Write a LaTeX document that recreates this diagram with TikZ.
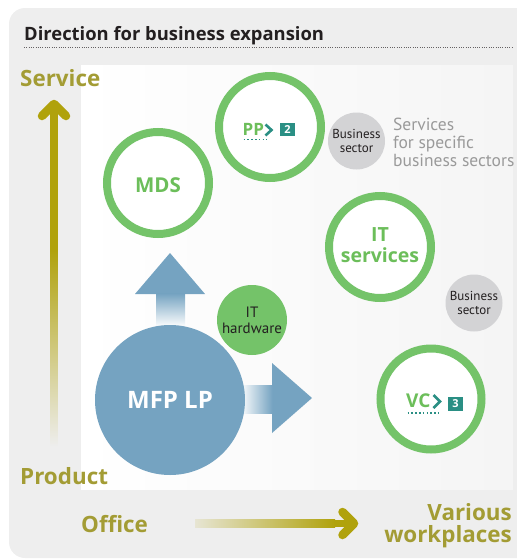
\documentclass[tikz,border=0pt]{standalone}
\usepackage{fontspec}
\setmainfont{Open Sans}
\newfontfamily\ptsans{PT Sans}
\usetikzlibrary{calc}
\definecolor{bgout}{HTML}{EEEEEE}
\definecolor{olivetxt}{HTML}{A39C34}
\definecolor{olivearr}{HTML}{B0A20C}
\definecolor{ringgrn}{HTML}{74C369}
\definecolor{txtgrn}{HTML}{6CBE5A}
\definecolor{mfpblue}{HTML}{75A3C1}
\definecolor{tealc}{HTML}{2A8F84}
\definecolor{bsgray}{HTML}{D3D3D5}
\definecolor{svcgray}{HTML}{9A9A9A}
\definecolor{darktxt}{HTML}{231F20}
\tikzset{
  ring/.style={circle, draw=ringgrn, line width=8pt, fill=white, minimum size=#1, inner sep=0pt},
  axislbl/.style={font=\bfseries\fontsize{22.4}{23}\selectfont, text=olivetxt, inner sep=0pt},
  bizsec/.style={circle, fill=bsgray, minimum size=57pt, inner sep=0pt, align=center,
     text=darktxt, font=\ptsans\fontsize{13}{14.5}\selectfont},
  numbox/.style={fill=tealc, text=white, minimum width=15pt, minimum height=13.5pt, inner sep=0pt,
     font=\bfseries\fontsize{11}{11}\selectfont},
  chev/.style={draw=tealc, line width=2.6pt, line join=miter},
  dotul/.style={draw=tealc, line width=1.6pt, dash pattern=on 1.6pt off 2.2pt},
  ringtxt/.style={font=\bfseries\fontsize{20.5}{20}\selectfont, text=txtgrn, inner sep=0pt, align=center},
  codelbl/.style={anchor=base west, inner sep=0pt, text=txtgrn},
}
\begin{document}
\begin{tikzpicture}[x=1pt,y=-1pt]
\useasboundingbox (0,0) rectangle (517,560);
\begin{scope}
\clip (0,0) rectangle (517,560);
\fill[bgout, rounded corners=16pt] (9,8) rectangle (540,558);
\end{scope}
% inner panel
\shade[left color=white, right color=black!4] (81,65) rectangle (513,489);
% title
\node[anchor=base west, inner sep=0pt, font=\bfseries\fontsize{18.4}{19}\selectfont, text=darktxt] (title) at (24,40.5) {Direction for business expansion};
\coordinate (dl) at (24,47.5);
\coordinate (dr) at (512,47.5);
\draw[darktxt!70, line width=0.9pt, dash pattern=on 0.9pt off 1.4pt] (dl) -- (dr);

% vertical axis arrow
\coordinate (vtop) at (54,106);
\coordinate (vmid) at (54,250);
\coordinate (vbot) at (54,447);
\fill[olivearr] ($(vtop)+(-3.8,0)$) rectangle ($(vmid)+(3.8,0)$);
\shade[top color=olivearr, bottom color=bgout] ($(vmid)+(-3.8,0)$) rectangle ($(vbot)+(3.8,0)$);
\coordinate (vtip) at (54,104);
\draw[olivearr, line width=8.5pt, line cap=round, line join=round] ($(vtip)+(-12,12)$) -- (vtip) -- ($(vtip)+(12,12)$);

% horizontal axis arrow
\coordinate (hl) at (195,523.5);
\coordinate (hm) at (335,523.5);
\coordinate (hr) at (352,523.5);
\shade[left color=olivearr!12!bgout, right color=olivearr] ($(hl)+(0,-3.8)$) rectangle ($(hm)+(0,3.8)$);
\fill[olivearr] ($(hm)+(0,-3.8)$) rectangle ($(hr)+(0,3.8)$);
\coordinate (htip) at (354,523.5);
\draw[olivearr, line width=8.5pt, line cap=round, line join=round] ($(htip)+(-11.5,-11.5)$) -- (htip) -- ($(htip)+(-11.5,11.5)$);

% axis labels
\node[axislbl, anchor=base west] (service) at (20,86) {Service};
\node[axislbl, anchor=base west] (product) at (20,484.5) {Product};
\node[axislbl, anchor=base west] (office) at (81,532) {Office};
\node[axislbl, anchor=base east, align=right] (various) at (512,520) {Various};
\node[axislbl, anchor=base east, align=right] (workpl) at (512,542) {workplaces};

% blue arrows from MFP
\fill[mfpblue] (135,294) -- (170,253) -- (205,294) -- cycle;
\shade[top color=mfpblue, bottom color=white] (156,293.5) rectangle (185,327);
\fill[mfpblue] (272,363) -- (312,398) -- (272,433) -- cycle;
\shade[left color=white, right color=mfpblue] (240,385) rectangle (272.5,413);

% MFP LP
\node[circle, fill=mfpblue, minimum size=150pt, inner sep=0pt, text=white,
  font=\bfseries\fontsize{24}{24}\selectfont] (mfp) at (170,400) {MFP LP};

% IT hardware
\node[circle, fill=ringgrn, minimum size=70pt, inner sep=0pt, align=center, text=darktxt,
  font=\ptsans\fontsize{15}{16}\selectfont] (ithw) at (252,320) {IT\\hardware};

% green rings
\node[ring=102pt] (mds) at (158,183) {};
\node[ringtxt] (mdst) at (158,185.5) {MDS};
\node[ring=102pt] (pp) at (270,127) {};
\node[ring=102pt] (its) at (380,247) {};
\node[ringtxt, font=\bfseries\fontsize{19.5}{21}\selectfont] (itst) at (380,245.5) {IT\\services};
\node[ring=101pt] (vc) at (431,399) {};

% PP label
\node[codelbl, font=\bfseries\fontsize{17}{18}\selectfont] (ppt) at (242.5,135) {PP};
\coordinate (ppc) at (265.5,124.5);
\draw[chev] (ppc) -- ($(ppc)+(6,5.5)$) -- ($(ppc)+(0,11)$);
\node[numbox] (pp2) at (287.5,129.5) {2};
\draw[dotul] (243.5,139.5) -- (267,139.5);

% VC label
\node[codelbl, font=\bfseries\fontsize{19}{20}\selectfont] (vct) at (406,407) {VC};
\coordinate (vcc) at (433.5,395);
\draw[chev] (vcc) -- ($(vcc)+(6.5,6.5)$) -- ($(vcc)+(0,13)$);
\node[numbox, minimum height=14pt] (vc3) at (455.5,404) {3};
\draw[dotul] (407.5,413) -- (438,413);

% business sector circles
\node[bizsec] (bs1) at (356.5,141) {Business\\sector};
\node[bizsec] (bs2) at (474,303) {Business\\sector};

% services for specific business sectors
\node[anchor=base west, inner sep=0pt, align=left, text=svcgray,
  font=\ptsans\fontsize{17.5}{18}\selectfont] (svc) at (393,166) {Services\\for specific\\business sectors};
\end{tikzpicture}
\end{document}
